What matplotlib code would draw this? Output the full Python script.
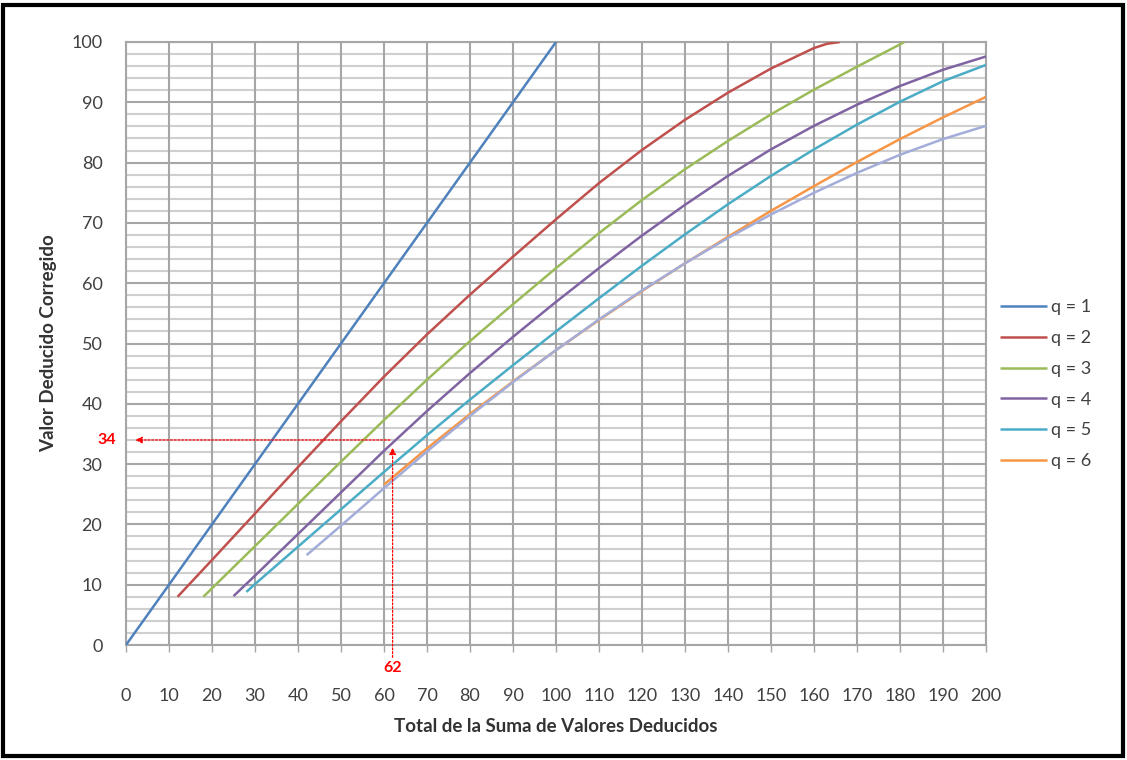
import matplotlib
matplotlib.use("Agg")
import matplotlib.pyplot as plt
from matplotlib.patches import Rectangle

plt.rcParams['font.family'] = ['Lato', 'DejaVu Sans']

# ---- data ----
q1_x = [0, 100]
q1_y = [0, 100]
q2_x = [12, 20, 30, 40, 50, 60, 70, 80, 90, 100, 110, 120, 130, 140, 150, 160, 163, 166]
q2_y = [8, 14.1, 21.8, 29.5, 37.1, 44.5, 51.5, 58.1, 64.4, 70.6, 76.6, 82.1, 87.1, 91.6, 95.6, 99.0, 99.7, 100]
q3_x = [18, 20, 30, 40, 50, 60, 70, 80, 90, 100, 110, 120, 130, 140, 150, 160, 170, 180, 181]
q3_y = [8, 9.4, 16.4, 23.4, 30.4, 37.3, 44.0, 50.4, 56.5, 62.5, 68.3, 73.8, 78.9, 83.6, 88.0, 92.1, 95.9, 99.6, 100]
q4_x = [25, 30, 40, 50, 60, 70, 80, 90, 100, 110, 120, 130, 140, 150, 160, 170, 180, 190, 200]
q4_y = [8.1, 11.5, 18.4, 25.3, 32.2, 38.8, 45.1, 51.1, 56.9, 62.5, 67.9, 73.0, 77.8, 82.2, 86.1, 89.6, 92.7, 95.4, 97.6]
q5_x = [28, 30, 40, 50, 60, 70, 80, 90, 100, 110, 120, 130, 140, 150, 160, 170, 180, 190, 200]
q5_y = [8.8, 10.1, 16.3, 22.5, 28.7, 34.8, 40.7, 46.4, 52.0, 57.5, 62.9, 68.1, 73.1, 77.8, 82.2, 86.3, 90.1, 93.5, 96.2]
q6_x = [60, 70, 80, 90, 100, 110, 120, 130, 140, 150, 160, 170, 180, 190, 200]
q6_y = [26.6, 32.6, 38.3, 43.7, 48.9, 53.9, 58.7, 63.3, 67.7, 72.0, 76.1, 80.1, 83.9, 87.5, 90.9]
q7_x = [42, 50, 60, 70, 80, 90, 100, 110, 120, 130, 140, 150, 160, 170, 180, 190, 200]
q7_y = [14.9, 19.8, 26.0, 32.1, 38.0, 43.6, 48.9, 54.0, 58.8, 63.3, 67.5, 71.4, 75.0, 78.3, 81.3, 83.9, 86.1]

labels = ["q = 1", "q = 2", "q = 3", "q = 4", "q = 5", "q = 6"]
colors = ["#4F81BD", "#C0504D", "#9BBB59", "#8064A2", "#4BACC6", "#F79646"]
q7_color = "#A3ADD9"

read_x = 62
read_y = 34

x_ticks = list(range(0, 201, 10))
y_ticks = list(range(0, 101, 10))

# ---- figure ----
fig = plt.figure(figsize=(11.27, 7.6), dpi=100)
ax = fig.add_axes([126 / 1127, 1 - 645 / 760, (986 - 126) / 1127, (645 - 42) / 760])

ax.set_xlim(0, 200)
ax.set_ylim(0, 100)

# grid
for yv in range(0, 101, 2):
    if yv % 10:
        ax.axhline(yv, color="#CFCFCF", lw=1.5, zorder=0)
for yv in y_ticks:
    ax.axhline(yv, color="#A6A6A6", lw=1.5, zorder=0.5)
for xv in x_ticks:
    ax.axvline(xv, color="#A6A6A6", lw=1.5, zorder=0.5)

series = [(q1_x, q1_y), (q2_x, q2_y), (q3_x, q3_y), (q4_x, q4_y), (q5_x, q5_y), (q6_x, q6_y)]
for (xs, ys), lab, c in zip(series, labels, colors):
    ax.plot(xs, ys, color=c, lw=1.8, label=lab, zorder=3, solid_capstyle="butt",
            solid_joinstyle="round")
ax.plot(q7_x, q7_y, color=q7_color, lw=1.8, zorder=3.5, solid_capstyle="butt",
        solid_joinstyle="round")

# reading annotation
ax.annotate("", xy=(1.5, read_y), xytext=(read_x, read_y),
            arrowprops=dict(arrowstyle="-|>", color="red", lw=0.9, ls=(0, (1.5, 1.5)),
                            mutation_scale=10), zorder=5)
ax.annotate("", xy=(read_x, read_y - 0.8), xytext=(read_x, -2.5),
            xycoords="data", textcoords="data",
            arrowprops=dict(arrowstyle="-|>", color="red", lw=0.9, ls=(0, (1.5, 1.5)),
                            mutation_scale=10), zorder=5, annotation_clip=False)
ax.text(-2.2, read_y, str(read_y), color="red", fontsize=11.5, fontweight="bold",
        ha="right", va="center", clip_on=False)
ax.text(read_x, -2.6, str(read_x), color="red", fontsize=11.5, fontweight="bold",
        ha="center", va="top", clip_on=False)

ax.set_xticks(x_ticks)
ax.set_yticks(y_ticks)
ax.tick_params(axis="x", length=5, width=1, color="#A6A6A6", pad=26,
               labelsize=13, labelcolor="#404040")
ax.tick_params(axis="y", length=0, pad=17, labelsize=13, labelcolor="#404040")
for s in ax.spines.values():
    s.set_color("#A6A6A6")
    s.set_linewidth(1.5)

ax.set_xlabel("Total de la Suma de Valores Deducidos", fontsize=13.5,
              fontweight="bold", color="#333333", labelpad=10)
ax.set_ylabel("Valor Deducido Corregido", fontsize=13.5,
              fontweight="bold", color="#333333", labelpad=10)

leg = ax.legend(loc="upper left", bbox_to_anchor=(993 / 1127, 1 - 292 / 760),
                bbox_transform=fig.transFigure, frameon=False, fontsize=13,
                handlelength=2.6, handletextpad=0.2, labelspacing=0.82,
                borderaxespad=0)
for t in leg.get_texts():
    t.set_color("#404040")

# outer frame
fig.patches.append(Rectangle((3 / 1127, 4 / 760), 1 - 7 / 1127, 1 - 9 / 760,
                             transform=fig.transFigure, fill=False,
                             edgecolor="black", lw=3))

fig.savefig("out.png", dpi=100)
